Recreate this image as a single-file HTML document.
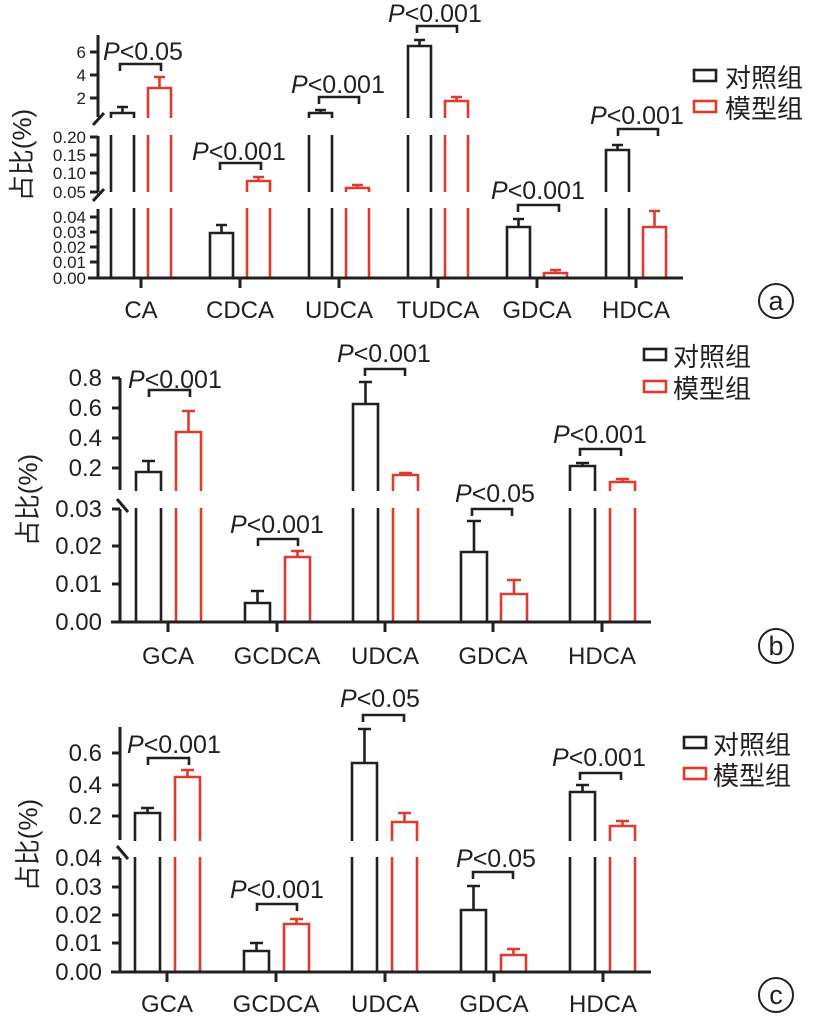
<!DOCTYPE html>
<html><head><meta charset="utf-8"><style>
body{margin:0;background:#fff}
svg{display:block}
text{font-family:"Liberation Sans","Noto Sans CJK SC",sans-serif;fill:#231f20}
.k{stroke:#231f20;fill:none;stroke-width:2.6}
.r{stroke:#e03a2f;fill:none;stroke-width:2.6}
.ax{stroke:#231f20;fill:none;stroke-width:3}
.p{font-size:25px}
.ta{font-size:17px}
.tb{font-size:24px}
.xl{font-size:24px}
.lg{font-size:26px}
</style></head><body>
<svg width="819" height="1019" viewBox="0 0 819 1019" xmlns="http://www.w3.org/2000/svg">
<rect width="819" height="1019" fill="#fff"/>

<!-- ===== Panel a ===== -->
<g>
<path class="k" d="M111 278V113H134V278M122.5 113V107M117 107H128"/>
<path class="r" d="M148 278V88H171V278M159.5 88V77M154 77H165"/>
<path class="k" d="M210 278V233H233V278M221.5 233V225M216 225H227"/>
<path class="r" d="M247 278V181H270V278M258.5 181V177M253 177H264"/>
<path class="k" d="M309 278V113H332V278M320.5 113V110M315 110H326"/>
<path class="r" d="M346 278V188H369V278M357.5 188V185M352 185H363"/>
<path class="k" d="M408 278V46H431V278M419.5 46V40M414 40H425"/>
<path class="r" d="M445 278V101H468V278M456.5 101V97M451 97H462"/>
<path class="k" d="M507 278V227H530V278M518.5 227V219M513 219H524"/>
<path class="r" d="M544 278V273H567V278M555.5 273V270M550 270H561"/>
<path class="k" d="M606 278V150H629V278M617.5 150V145M612 145H623"/>
<path class="r" d="M643 278V227H666V278M654.5 227V211M649 211H660"/>
<rect x="88" y="118" width="620" height="17" fill="#fff"/>
<rect x="88" y="192" width="620" height="16" fill="#fff"/>
<path class="ax" d="M98 35V117M98 136V192M98 209V278M88 278H683"/>
<path class="ax" d="M93 125L104 113M93 201L104 189"/>
<path class="ax" d="M90 52H98M90 75H98M90 98H98M90 137H98M90 155H98M90 173H98M90 192H98M90 217H98M90 232H98M90 247H98M90 262H98"/>
<path class="ax" d="M141 278V288M240 278V288M339 278V288M438 278V288M537 278V288M636 278V288"/>
<g class="ta" text-anchor="end">
<text x="86" y="58">6</text><text x="86" y="81">4</text><text x="86" y="104">2</text>
<text x="86" y="143">0.20</text><text x="86" y="161">0.15</text><text x="86" y="179">0.10</text><text x="86" y="198">0.05</text>
<text x="86" y="223">0.04</text><text x="86" y="238">0.03</text><text x="86" y="253">0.02</text><text x="86" y="268">0.01</text><text x="86" y="284">0.00</text>
</g>
<g class="xl" text-anchor="middle">
<text x="141" y="318">CA</text><text x="240" y="318">CDCA</text><text x="339" y="318">UDCA</text><text x="438" y="318">TUDCA</text><text x="537" y="318">GDCA</text><text x="636" y="318">HDCA</text>
</g>
<path class="k" d="M120 71V64H161V71M220 170V163H261V170M319 104V97H359V104M417 33V26H457V33M518 212V205H559V212M618 136V129H658V136"/>
<g class="p">
<text x="103" y="60"><tspan font-style="italic">P</tspan>&lt;0.05</text>
<text x="192" y="160"><tspan font-style="italic">P</tspan>&lt;0.001</text>
<text x="291" y="93"><tspan font-style="italic">P</tspan>&lt;0.001</text>
<text x="388" y="22"><tspan font-style="italic">P</tspan>&lt;0.001</text>
<text x="491" y="199"><tspan font-style="italic">P</tspan>&lt;0.001</text>
<text x="590" y="124"><tspan font-style="italic">P</tspan>&lt;0.001</text>
</g>
<rect x="694" y="70" width="22" height="11" class="k"/>
<rect x="694" y="101" width="22" height="11" class="r"/>
<text class="lg" x="725" y="87">对照组</text>
<text class="lg" x="725" y="118">模型组</text>
<text transform="translate(31,155) rotate(-90)" text-anchor="middle" font-size="26">占比(%)</text>
<circle cx="776" cy="301" r="17" fill="none" stroke="#231f20" stroke-width="2"/>
<text x="776" y="310" text-anchor="middle" font-size="27">a</text>
</g>

<!-- ===== Panel b ===== -->
<g>
<path class="k" d="M136 622V472H161V622M148.5 472V461M142 461H155"/>
<path class="r" d="M176 622V432H201V622M188.5 432V411M182 411H195"/>
<path class="k" d="M245 622V603H270V622M257.5 603V591M251 591H264"/>
<path class="r" d="M285 622V557H310V622M297.5 557V551M291 551H304"/>
<path class="k" d="M353 622V404H378V622M365.5 404V382M359 382H372"/>
<path class="r" d="M393 622V475H418V622M405.5 475V473M399 473H412"/>
<path class="k" d="M461 622V552H487V622M474 552V521M467 521H481"/>
<path class="r" d="M501 622V594H527V622M514 594V580M507 580H521"/>
<path class="k" d="M570 622V466H595V622M582.5 466V463M576 463H589"/>
<path class="r" d="M610 622V482H635V622M622.5 482V479M616 479H629"/>
<rect x="110" y="491" width="600" height="17" fill="#fff"/>
<path class="ax" d="M120 378V490M120 509V622M111 622H651"/>
<path class="ax" d="M117 499L128 512"/>
<path class="ax" d="M112 378H120M112 408H120M112 438H120M112 468H120M112 509H120M112 546H120M112 584H120"/>
<path class="ax" d="M168 622V632M277 622V632M385 622V632M493 622V632M602 622V632"/>
<g class="tb" text-anchor="end">
<text x="102" y="386">0.8</text><text x="102" y="416">0.6</text><text x="102" y="446">0.4</text><text x="102" y="476">0.2</text>
<text x="102" y="517">0.03</text><text x="102" y="554">0.02</text><text x="102" y="592">0.01</text><text x="102" y="630">0.00</text>
</g>
<g class="xl" text-anchor="middle">
<text x="168" y="664">GCA</text><text x="277" y="664">GCDCA</text><text x="385" y="664">UDCA</text><text x="493" y="664">GDCA</text><text x="602" y="664">HDCA</text>
</g>
<path class="k" d="M149 397V390H190V397M258 546V539H298V546M365 376V369H405V376M472 516V509H512V516M580 456V449H621V456"/>
<g class="p">
<text x="128" y="388"><tspan font-style="italic">P</tspan>&lt;0.001</text>
<text x="230" y="533"><tspan font-style="italic">P</tspan>&lt;0.001</text>
<text x="337" y="362"><tspan font-style="italic">P</tspan>&lt;0.001</text>
<text x="455" y="502"><tspan font-style="italic">P</tspan>&lt;0.05</text>
<text x="553" y="443"><tspan font-style="italic">P</tspan>&lt;0.001</text>
</g>
<rect x="644" y="349" width="22" height="11" class="k"/>
<rect x="644" y="381" width="22" height="11" class="r"/>
<text class="lg" x="673" y="366">对照组</text>
<text class="lg" x="673" y="398">模型组</text>
<text transform="translate(37,500) rotate(-90)" text-anchor="middle" font-size="26">占比(%)</text>
<circle cx="776" cy="646" r="17" fill="none" stroke="#231f20" stroke-width="2"/>
<text x="776" y="655" text-anchor="middle" font-size="27">b</text>
</g>

<!-- ===== Panel c ===== -->
<g>
<path class="k" d="M135 972V813H160V972M147.5 813V808M141 808H154"/>
<path class="r" d="M175 972V777H200V972M187.5 777V770M181 770H194"/>
<path class="k" d="M244 972V951H269V972M256.5 951V943M250 943H263"/>
<path class="r" d="M284 972V924H309V972M296.5 924V919M290 919H303"/>
<path class="k" d="M352 972V763H377V972M364.5 763V729M358 729H371"/>
<path class="r" d="M392 972V822H417V972M404.5 822V813M398 813H411"/>
<path class="k" d="M461 972V910H486V972M473.5 910V886M467 886H480"/>
<path class="r" d="M501 972V955H526V972M513.5 955V949M507 949H520"/>
<path class="k" d="M570 972V792H595V972M582.5 792V785M576 785H589"/>
<path class="r" d="M610 972V826H635V972M622.5 826V821M616 821H629"/>
<rect x="110" y="841" width="600" height="16" fill="#fff"/>
<path class="ax" d="M120 727V840M120 858V972M111 972H651"/>
<path class="ax" d="M117 846L128 859"/>
<path class="ax" d="M112 753H120M112 785H120M112 816H120M112 858H120M112 887H120M112 915H120M112 943H120"/>
<path class="ax" d="M167 972V982M276 972V982M385 972V982M494 972V982M603 972V982"/>
<g class="tb" text-anchor="end">
<text x="102" y="761">0.6</text><text x="102" y="793">0.4</text><text x="102" y="824">0.2</text>
<text x="102" y="866">0.04</text><text x="102" y="895">0.03</text><text x="102" y="923">0.02</text><text x="102" y="951">0.01</text><text x="102" y="980">0.00</text>
</g>
<g class="xl" text-anchor="middle">
<text x="167" y="1012">GCA</text><text x="276" y="1012">GCDCA</text><text x="385" y="1012">UDCA</text><text x="494" y="1012">GDCA</text><text x="603" y="1012">HDCA</text>
</g>
<path class="k" d="M148 765V758H189V765M257 911V904H297V911M363 722V715H404V722M473 879V872H513V879M580 780V773H621V780"/>
<g class="p">
<text x="127" y="753"><tspan font-style="italic">P</tspan>&lt;0.001</text>
<text x="230" y="898"><tspan font-style="italic">P</tspan>&lt;0.001</text>
<text x="340" y="707"><tspan font-style="italic">P</tspan>&lt;0.05</text>
<text x="456" y="867"><tspan font-style="italic">P</tspan>&lt;0.05</text>
<text x="552" y="766"><tspan font-style="italic">P</tspan>&lt;0.001</text>
</g>
<rect x="684" y="737" width="22" height="11" class="k"/>
<rect x="684" y="768" width="22" height="11" class="r"/>
<text class="lg" x="713" y="754">对照组</text>
<text class="lg" x="713" y="785">模型组</text>
<text transform="translate(37,845) rotate(-90)" text-anchor="middle" font-size="26">占比(%)</text>
<circle cx="776" cy="995" r="17" fill="none" stroke="#231f20" stroke-width="2"/>
<text x="776" y="1004" text-anchor="middle" font-size="27">c</text>
</g>
</svg>
</body></html>
